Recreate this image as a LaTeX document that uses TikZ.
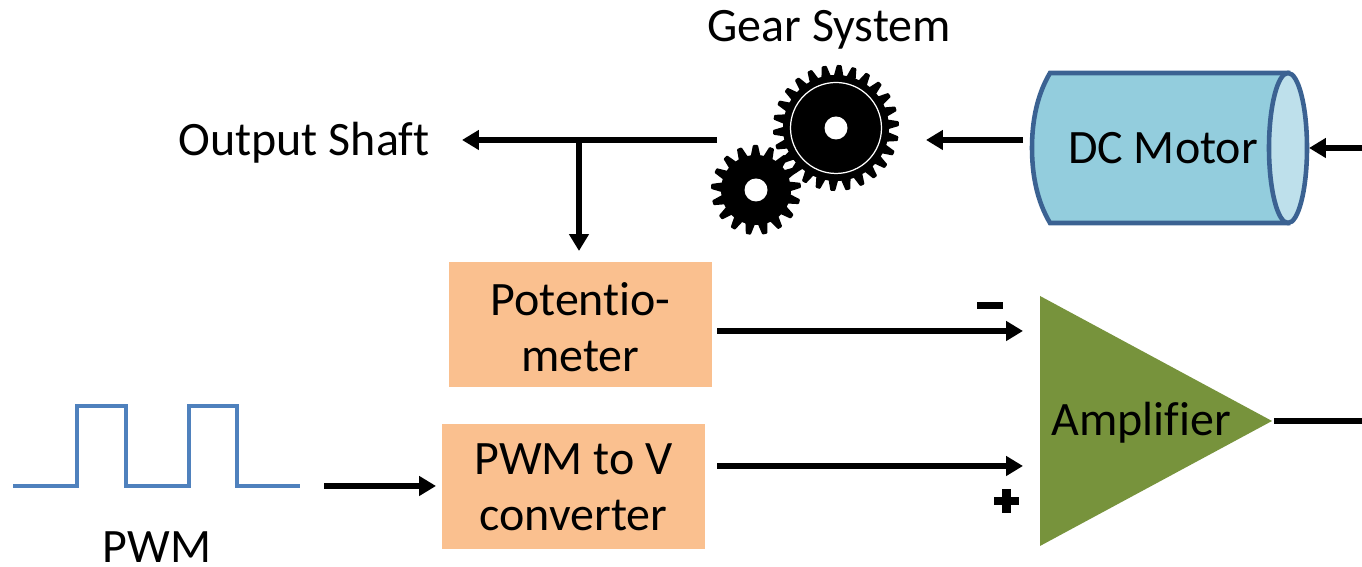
\documentclass[tikz,border=0pt]{standalone}
\usepackage{fontspec}
\setmainfont{Carlito}[Ligatures = NoCommon]
\usetikzlibrary{arrows.meta}
\definecolor{boxorange}{HTML}{FAC08F}
\definecolor{ampgreen}{HTML}{77933C}
\definecolor{motorblue}{HTML}{93CDDD}
\definecolor{motorlight}{HTML}{BEE0EB}
\definecolor{motorline}{HTML}{3B6292}
\definecolor{waveblue}{HTML}{4F81BD}
\tikzset{
	label text/.style = {font = \fontsize{13.65}{16}\selectfont, align = center, inner sep = 0pt},
	box/.style = {fill = boxorange, minimum width = 2.63cm, minimum height = 1.25cm, inner sep = 0pt},
	signal/.style = {line width = 1.5pt, -{Triangle[length = 4.8pt, width = 5.4pt]}},
	plain signal/.style = {line width = 1.5pt}
}
\begin{document}
\begin{tikzpicture}
	\useasboundingbox (0, 0) rectangle (13.62, 5.67);

	\coordinate (a1) at (10.40, 2.71);
	\coordinate (a2) at (12.72, 1.46);
	\coordinate (a3) at (10.40, 0.21);

	\coordinate (m1) at (10.50, 4.94);
	\coordinate (m2) at (12.88, 4.94);
	\coordinate (m3) at (12.88, 3.44);
	\coordinate (m4) at (10.50, 3.44);
	\coordinate (m5) at (12.88, 4.19);

	\coordinate (s1) at (7.17, 4.27);
	\coordinate (s2) at (4.62, 4.27);
	\coordinate (s3) at (5.79, 4.27);
	\coordinate (s4) at (5.79, 3.16);

	\coordinate (g1) at (10.23, 4.27);
	\coordinate (g2) at (9.26, 4.27);
	\coordinate (r1) at (13.62, 4.19);
	\coordinate (r2) at (13.09, 4.19);
	\coordinate (o1) at (12.74, 1.46);
	\coordinate (o2) at (13.62, 1.46);

	\coordinate (p1) at (7.17, 2.36);
	\coordinate (p2) at (10.23, 2.36);
	\coordinate (c1) at (7.17, 1.01);
	\coordinate (c2) at (10.23, 1.01);
	\coordinate (w1) at (3.24, 0.81);
	\coordinate (w2) at (4.36, 0.81);

	\draw [color = waveblue, line width = 1pt] (0.13, 0.81) -- (0.77, 0.81) -- (0.77, 1.61) -- (1.26, 1.61) -- (1.26, 0.81) -- (1.89, 0.81) -- (1.89, 1.61) -- (2.37, 1.61) -- (2.37, 0.81) -- (3.00, 0.81);

	\foreach \cx/\cy/\teeth/\router/\rroot/\turn in {8.36/4.39/26/0.62/0.52/4, 7.56/3.77/17/0.44/0.34/6} {
		\fill [black, draw = black, line width = 0.6pt, line join = round, shift = {(\cx, \cy)}, rotate = \turn]
			(0:\rroot) \foreach \i in {1,...,\teeth} {
				-- ({(\i - 0.30) * 360 / \teeth}:\rroot)
				-- ({(\i - 0.10) * 360 / \teeth}:\router)
				-- ({(\i + 0.10) * 360 / \teeth}:\router)
				-- ({(\i + 0.30) * 360 / \teeth}:\rroot)
			} -- cycle;
	}
	\draw [white, line width = 0.35pt] (8.36, 4.39) circle (0.455);
	\fill [white] (8.36, 4.39) circle (0.115);
	\fill [white] (7.56, 3.77) circle (0.115);

	\draw [line width = 1.3pt, color = motorline, fill = motorblue] (m1) -- (m2) -- (m3) -- (m4) .. controls (10.37, 3.66) and (10.32, 3.92) .. (10.32, 4.19) .. controls (10.32, 4.46) and (10.37, 4.72) .. (m1) -- cycle;
	\draw [line width = 1.3pt, color = motorline, fill = motorlight] (m5) ellipse (0.19 and 0.75);

	\fill [ampgreen] (a1) -- (a2) -- (a3) -- cycle;

	\fill (9.77, 2.65) rectangle (10.03, 2.58);
	\fill (9.94, 0.70) rectangle (10.19, 0.62);
	\fill (10.02, 0.78) rectangle (10.11, 0.54);

	\node [label text] (gear) at (8.29, 5.37) {Gear System};
	\node [label text] (shaft) at (3.04, 4.24) {Output Shaft};
	\node [label text] (pwm) at (1.57, 0.20) {PWM};
	\node [label text] (motor) at (11.63, 4.19) {DC Motor};
	\node [label text] (amp) at (11.41, 1.44) {Amplifier};
	\node [box, label text] (pot) at (5.805, 2.42) {\rule{0pt}{10.6pt}Potentio-\\meter};
	\node [box, label text] (conv) at (5.735, 0.80) {PWM to V\\converter};

	\draw [signal] (s1) -- (s2);
	\draw [signal] (s3) -- (s4);
	\draw [signal] (g1) -- (g2);
	\draw [signal] (r1) -- (r2);
	\draw [signal] (p1) -- (p2);
	\draw [signal] (c1) -- (c2);
	\draw [signal] (w1) -- (w2);
	\draw [plain signal] (o1) -- (o2);
\end{tikzpicture}
\end{document}
